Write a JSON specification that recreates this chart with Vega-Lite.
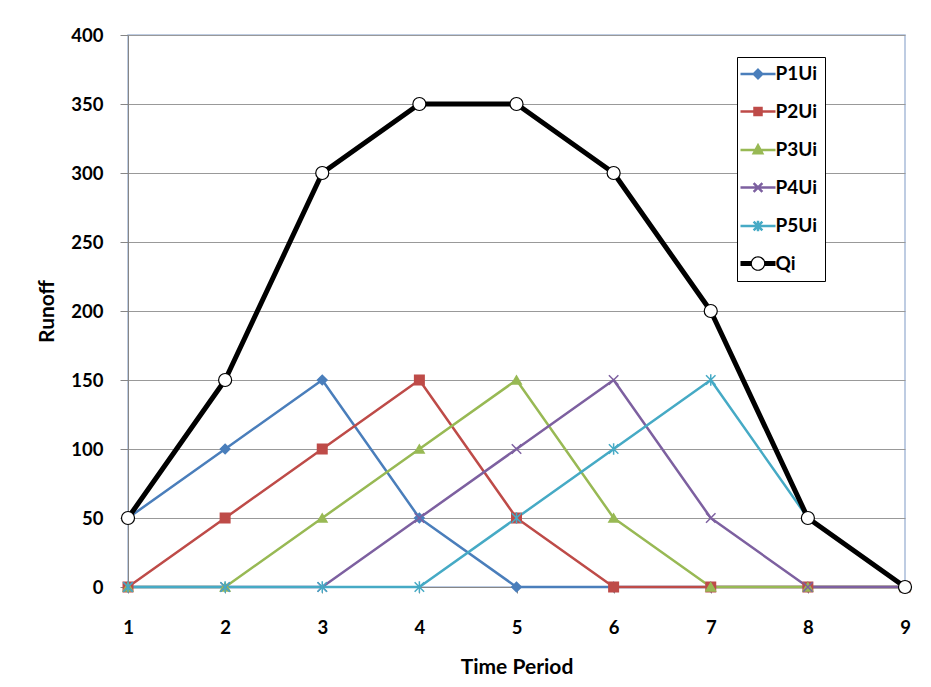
{
  "$schema": "https://vega.github.io/schema/vega-lite/v6.json",
  "width": 777,
  "height": 552,
  "autosize": "none",
  "padding": {"left": 128, "top": 35, "right": 26, "bottom": 100},
  "background": "white",
  "config": {
    "font": "Lato",
    "view": {"stroke": "#a9bcd9", "strokeWidth": 1.5},
    "axis": {
      "labelFont": "Lato", "labelFontWeight": "bold", "labelFontSize": 18.5, "labelColor": "black",
      "titleFont": "Lato", "titleFontWeight": "bold", "titleFontSize": 21, "titleColor": "black",
      "domainColor": "#868686", "tickColor": "#868686", "gridColor": "#999999"
    }
  },
  "data": {"values": [
    {"t":1,"s":"P1Ui","v":50},{"t":2,"s":"P1Ui","v":100},{"t":3,"s":"P1Ui","v":150},{"t":4,"s":"P1Ui","v":50},{"t":5,"s":"P1Ui","v":0},{"t":6,"s":"P1Ui","v":0},{"t":7,"s":"P1Ui","v":0},{"t":8,"s":"P1Ui","v":0},{"t":9,"s":"P1Ui","v":0},
    {"t":1,"s":"P2Ui","v":0},{"t":2,"s":"P2Ui","v":50},{"t":3,"s":"P2Ui","v":100},{"t":4,"s":"P2Ui","v":150},{"t":5,"s":"P2Ui","v":50},{"t":6,"s":"P2Ui","v":0},{"t":7,"s":"P2Ui","v":0},{"t":8,"s":"P2Ui","v":0},{"t":9,"s":"P2Ui","v":0},
    {"t":1,"s":"P3Ui","v":0},{"t":2,"s":"P3Ui","v":0},{"t":3,"s":"P3Ui","v":50},{"t":4,"s":"P3Ui","v":100},{"t":5,"s":"P3Ui","v":150},{"t":6,"s":"P3Ui","v":50},{"t":7,"s":"P3Ui","v":0},{"t":8,"s":"P3Ui","v":0},{"t":9,"s":"P3Ui","v":0},
    {"t":1,"s":"P4Ui","v":0},{"t":2,"s":"P4Ui","v":0},{"t":3,"s":"P4Ui","v":0},{"t":4,"s":"P4Ui","v":50},{"t":5,"s":"P4Ui","v":100},{"t":6,"s":"P4Ui","v":150},{"t":7,"s":"P4Ui","v":50},{"t":8,"s":"P4Ui","v":0},{"t":9,"s":"P4Ui","v":0},
    {"t":1,"s":"P5Ui","v":0},{"t":2,"s":"P5Ui","v":0},{"t":3,"s":"P5Ui","v":0},{"t":4,"s":"P5Ui","v":0},{"t":5,"s":"P5Ui","v":50},{"t":6,"s":"P5Ui","v":100},{"t":7,"s":"P5Ui","v":150},{"t":8,"s":"P5Ui","v":50},{"t":9,"s":"P5Ui","v":0},
    {"t":1,"s":"Qi","v":50},{"t":2,"s":"Qi","v":150},{"t":3,"s":"Qi","v":300},{"t":4,"s":"Qi","v":350},{"t":5,"s":"Qi","v":350},{"t":6,"s":"Qi","v":300},{"t":7,"s":"Qi","v":200},{"t":8,"s":"Qi","v":50},{"t":9,"s":"Qi","v":0}
  ]},
  "encoding": {
    "x": {"field": "t", "type": "quantitative",
      "scale": {"domain": [1, 9], "nice": false, "zero": false},
      "axis": {"title": "Time Period", "values": [1,2,3,4,5,6,7,8,9], "grid": false, "tickSize": 6, "labelPadding": 25, "titlePadding": 20, "labelFlush": false}},
    "y": {"field": "v", "type": "quantitative",
      "scale": {"domain": [0, 400], "nice": false},
      "axis": {"title": "Runoff", "values": [0,50,100,150,200,250,300,350,400], "grid": true, "tickSize": 8, "labelPadding": 17, "titlePadding": 13}},
    "color": {"field": "s", "type": "nominal",
      "scale": {"domain": ["P1Ui","P2Ui","P3Ui","P4Ui","P5Ui","Qi"], "range": ["#4a7ebb","#be4b48","#98b954","#7d60a0","#46aac5","#000000"]},
      "legend": {
        "title": null, "orient": "none", "legendX": 609, "legendY": 22,
        "strokeColor": "black", "fillColor": "white", "padding": 7.5,
        "symbolSize": 1225, "rowPadding": 17.5, "labelOffset": 8, "symbolOffset": 4,
        "labelFont": "Lato", "labelFontWeight": "bold", "labelFontSize": 19, "labelColor": "black",
        "encode": {"symbols": {"update": {
          "shape": {"signal": "datum.value==='P1Ui' ? 'M-1,0L1,0M0,-0.24L0.24,0L0,0.24L-0.24,0Z' : datum.value==='P2Ui' ? 'M-1,0L1,0M-0.2,-0.2L0.2,-0.2L0.2,0.2L-0.2,0.2Z' : datum.value==='P3Ui' ? 'M-1,0L1,0M0,-0.26L0.24,0.18L-0.24,0.18Z' : datum.value==='P4Ui' ? 'M-1,0L1,0M-0.25,-0.25L0.25,0.25M-0.25,0.25L0.25,-0.25' : datum.value==='P5Ui' ? 'M-1,0L1,0M-0.25,-0.25L0.25,0.25M-0.25,0.25L0.25,-0.25M0,-0.3L0,0.3' : 'M-1,-0.14L-0.4,-0.14L-0.4,0.14L-1,0.14ZM0.4,-0.14L1,-0.14L1,0.14L0.4,0.14ZM0.42,0A0.42,0.42 0 1,1 -0.42,0A0.42,0.42 0 1,1 0.42,0ZM0.35,0A0.35,0.35 0 1,0 -0.35,0A0.35,0.35 0 1,0 0.35,0Z'"},
          "size": {"value": 1225},
          "fill": {"signal": "scale('color', datum.value)"},
          "fillOpacity": {"value": 1},
          "stroke": {"signal": "scale('color', datum.value)"},
          "strokeWidth": {"signal": "datum.value==='Qi' ? 0 : 2.5"},
          "opacity": {"value": 1}
        }}}
      }}
  },
  "layer": [
    {"transform": [{"filter": "datum.s !== 'Qi'"}],
     "mark": {"type": "line", "strokeWidth": 2.5, "strokeJoin": "round"}},
    {"transform": [{"filter": "datum.s !== 'Qi'"}],
     "mark": {"type": "point", "filled": true, "opacity": 1, "strokeWidth": 1.5},
     "encoding": {
       "shape": {"field": "s", "type": "nominal", "legend": null,
         "scale": {"domain": ["P1Ui","P2Ui","P3Ui","P4Ui","P5Ui"], "range": ["diamond","square","triangle-up","M-1,-1L1,1M-1,1L1,-1","M-1,-1L1,1M-1,1L1,-1M0,-1.2L0,1.2"]}},
       "stroke": {"field": "s", "type": "nominal", "legend": null,
         "scale": {"domain": ["P1Ui","P2Ui","P3Ui","P4Ui","P5Ui"], "range": ["#4a7ebb","#be4b48","#98b954","#7d60a0","#46aac5"]}},
       "size": {"value": 90}
     }},
    {"transform": [{"filter": "datum.s === 'Qi'"}],
     "mark": {"type": "line", "strokeWidth": 5, "strokeJoin": "round"}},
    {"transform": [{"filter": "datum.s === 'Qi'"}],
     "mark": {"type": "point", "shape": "circle", "filled": false, "fill": "white", "fillOpacity": 1, "stroke": "black", "strokeWidth": 1.2, "opacity": 1, "size": 170}}
  ]
}
